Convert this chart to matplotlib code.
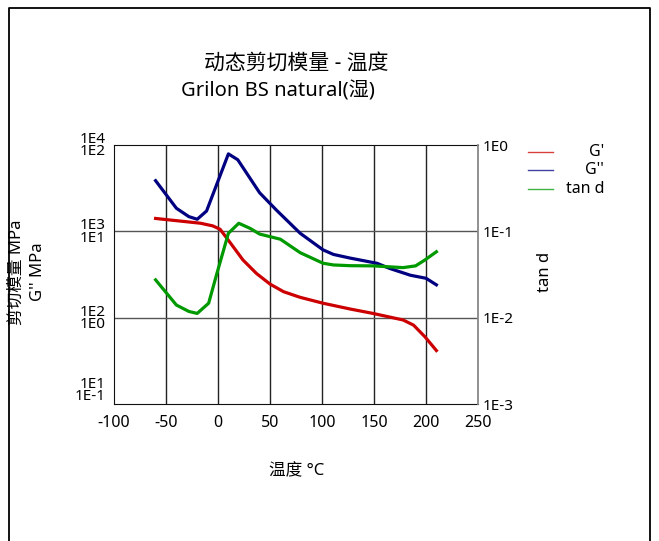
import matplotlib
matplotlib.use("Agg")
import matplotlib.pyplot as plt
from matplotlib.lines import Line2D

plt.rcParams["font.family"] = ["Noto Sans", "Noto Sans CJK SC", "DejaVu Sans"]
plt.rcParams["axes.unicode_minus"] = False

# G' (MPa) vs temperature
temp_g1 = [-60, -17, -5, 2, 11, 24, 37, 50, 63, 79, 101, 127, 149, 178, 188, 199, 210]
g1 = [1410, 1242, 1156, 1057, 759, 466, 325, 245, 200, 172, 147, 126, 112, 94, 82, 60, 41.6]

# G'' (MPa) vs temperature
temp_g2 = [-60, -40, -28, -20, -11, 10, 19, 40, 56, 79, 101, 111, 127, 140, 153, 165, 185, 200, 210]
g2 = [38.6, 18.5, 14.8, 13.8, 17.2, 78.9, 67.5, 28, 17.7, 9.5, 6.1, 5.4, 4.9, 4.57, 4.26, 3.72, 3.1, 2.86, 2.4]

# tan d vs temperature
temp_td = [-60, -40, -28, -20, -9, -1, 10, 20, 31, 40, 60, 79, 101, 111, 127, 149, 178, 190, 199, 210]
tand = [0.0274, 0.0140, 0.0118, 0.0112, 0.0147, 0.0327, 0.095, 0.124, 0.108, 0.093,
        0.081, 0.0566, 0.0427, 0.0408, 0.040, 0.0398, 0.038, 0.0398, 0.0466, 0.058]

x_ticks = [-100, -50, 0, 50, 100, 150, 200, 250]
left_ticks = [10, 100, 1000, 10000]
left_labels = ["1E1\n1E-1", "1E2\n1E0", "1E3\n1E1", "1E4\n1E2"]
right_ticks = [1e-3, 1e-2, 1e-1, 1e0]
right_labels = ["1E-3", "1E-2", "1E-1", "1E0"]

RED, BLUE, GREEN = "#cc0000", "#000080", "#009a00"
W, H = 659, 541

fig = plt.figure(figsize=(W / 100, H / 100), dpi=100)
ax = fig.add_axes([114 / W, 1 - 404 / H, (478 - 114) / W, (404 - 145) / H])

# G'
ax.set_yscale("log")
ax.set_ylim(10, 1e4)
ax.set_xlim(-100, 250)
ax.plot(temp_g1, g1, color=RED, lw=2.3, solid_joinstyle="round")
ax.set_xticks(x_ticks)
ax.set_yticks(left_ticks)
ax.set_yticklabels(left_labels, linespacing=0.75)
ax.minorticks_off()
ax.tick_params(axis="x", length=0, pad=8, labelsize=11.5)
ax.tick_params(axis="y", length=0, pad=6, labelsize=11)
ax.get_yticklabels()[0].set_va("bottom")
for xv in x_ticks[1:-1]:
    ax.axvline(xv, color="#222222", lw=1, zorder=0)
for yv in left_ticks[1:-1]:
    ax.axhline(yv, color="#555555", lw=1, zorder=0)
for side in ["left", "top", "bottom"]:
    ax.spines[side].set_color("#111111")
ax.spines["right"].set_visible(False)

# G''
ax2 = ax.twinx()
ax2.set_yscale("log")
ax2.set_ylim(0.1, 100)
ax2.plot(temp_g2, g2, color=BLUE, lw=2.3, solid_joinstyle="round")
ax2.axis("off")

# tan d
ax3 = ax.twinx()
ax3.set_yscale("log")
ax3.set_ylim(1e-3, 1)
ax3.plot(temp_td, tand, color=GREEN, lw=2.3, solid_joinstyle="round")
ax3.set_yticks(right_ticks)
ax3.set_yticklabels(right_labels)
ax3.minorticks_off()
ax3.tick_params(axis="y", length=0, pad=3, labelsize=11)
for side in ["left", "top", "bottom"]:
    ax3.spines[side].set_visible(False)
ax3.spines["right"].set_color("#888888")
ax3.spines["right"].set_linewidth(1.3)

# titles and labels
fig.text(296.5 / W, 1 - 63 / H, "动态剪切模量 - 温度", ha="center", va="center", fontsize=15)
fig.text(277.5 / W, 1 - 91 / H, "Grilon BS natural(湿)", ha="center", va="center", fontsize=14.5)
fig.text(296.5 / W, 1 - 471 / H, "温度 °C", ha="center", va="center", fontsize=12)
fig.text(17 / W, 1 - 272 / H, "剪切模量 MPa", rotation=90, ha="center", va="center", fontsize=12)
fig.text(38 / W, 1 - 272 / H, "G'' MPa", rotation=90, ha="center", va="center", fontsize=12)
fig.text(545 / W, 1 - 272 / H, "tan d", rotation=90, ha="center", va="center", fontsize=12)

# legend
for y, c, lab in [(152, RED, "G'"), (170, BLUE, "G''"), (189, GREEN, "tan d")]:
    fig.add_artist(Line2D([528 / W, 553 / W], [1 - y / H, 1 - y / H], color=c, lw=1, alpha=0.75))
    fig.text(604 / W, 1 - y / H, lab, ha="right", va="center", fontsize=11.5)

# outer frame (open at the bottom)
fig.add_artist(Line2D([9 / W, 9 / W, 650 / W, 650 / W], [0, 1 - 8 / H, 1 - 8 / H, 0],
                      color="black", lw=1.3))

fig.savefig("out.png", dpi=100)
